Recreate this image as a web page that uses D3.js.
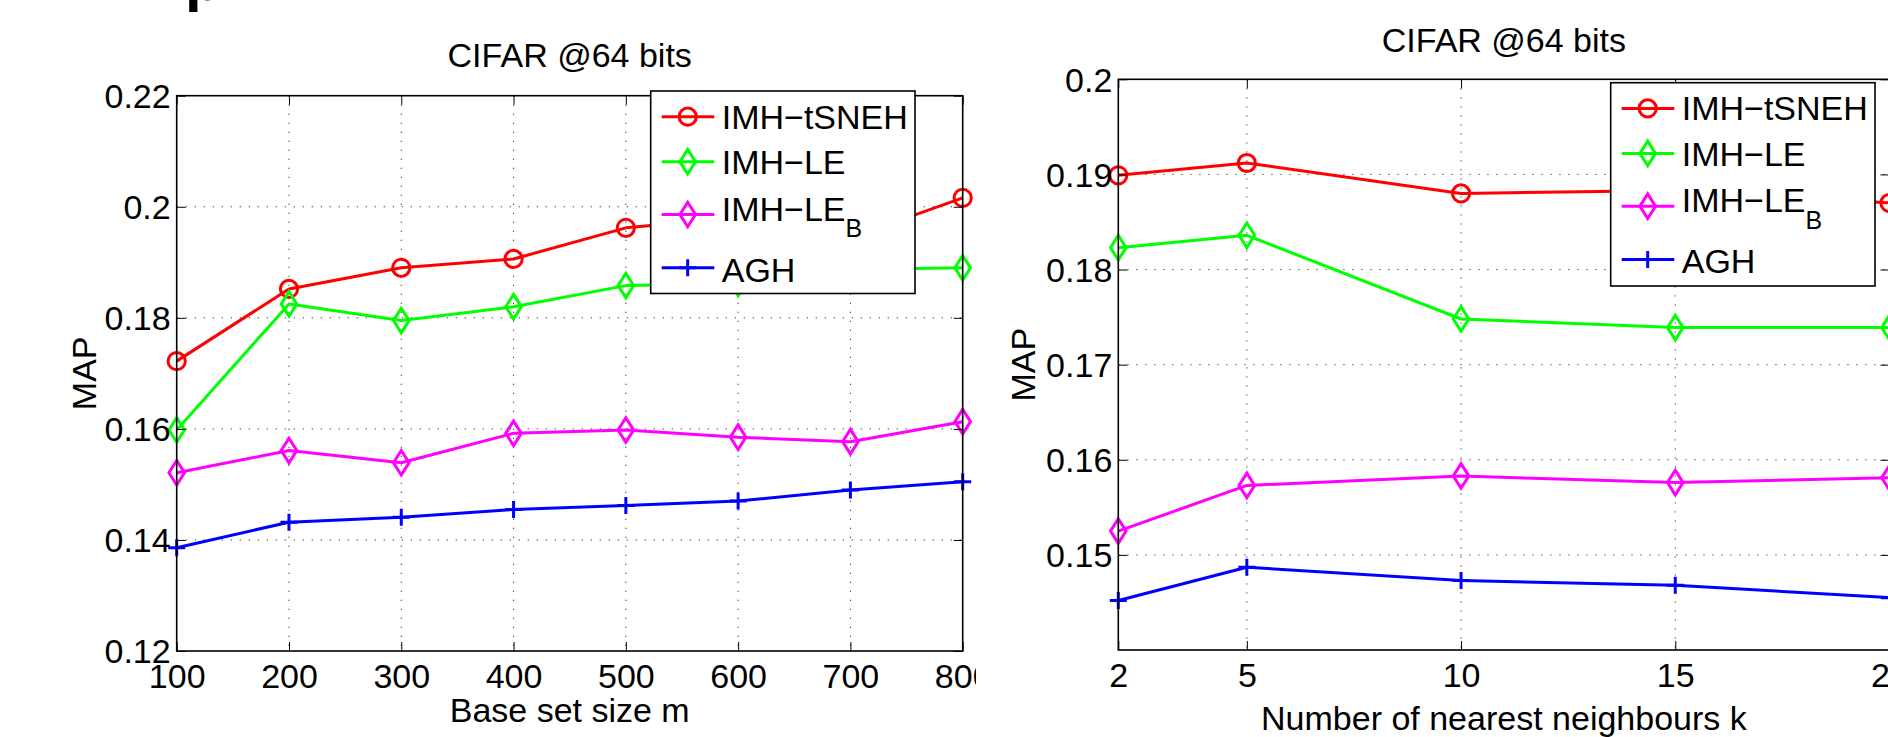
<!DOCTYPE html>
<html>
<head>
<meta charset="utf-8">
<script src="https://cdn.jsdelivr.net/npm/d3@7"></script>
<style>
  body { margin: 0; background: #fff; }
  svg { display: block; }
  text { font-family: "Liberation Sans", Arial, Helvetica, sans-serif; fill: #000; }
</style>
</head>
<body>
<svg id="fig" width="1888" height="737"></svg>
<script>
// ---- Left panel: MAP against base set size m ----
const baseSizes = [100, 200, 300, 400, 500, 600, 700, 800];
const baseTsneh = [0.1722, 0.1852, 0.1890, 0.1906, 0.1962, 0.1980, 0.1944, 0.2016];
const baseLe    = [0.1598, 0.1825, 0.1795, 0.1820, 0.1858, 0.1862, 0.1887, 0.1890];
const baseLeB   = [0.1521, 0.1561, 0.1539, 0.1592, 0.1598, 0.1585, 0.1577, 0.1613];
const baseAgh   = [0.1386, 0.1432, 0.1441, 0.1455, 0.1462, 0.1470, 0.1490, 0.1505];
const baseXTickLabels = ["100", "200", "300", "400", "500", "600", "700", "800"];
const baseYTicks = [0.12, 0.14, 0.16, 0.18, 0.2, 0.22];
const baseYTickLabels = ["0.12", "0.14", "0.16", "0.18", "0.2", "0.22"];

// ---- Right panel: MAP against number of nearest neighbours k ----
const neighbourK = [2, 5, 10, 15, 20];
const kTsneh = [0.1899, 0.1912, 0.1880, 0.1883, 0.1870];
const kLe    = [0.1823, 0.1836, 0.1748, 0.1739, 0.1739];
const kLeB   = [0.1525, 0.1573, 0.1583, 0.1576, 0.1581];
const kAgh   = [0.1452, 0.1487, 0.1473, 0.1468, 0.1455];
const kXTickLabels = ["2", "5", "10", "15", "20"];
const kYTicks = [0.15, 0.16, 0.17, 0.18, 0.19, 0.2];
const kYTickLabels = ["0.15", "0.16", "0.17", "0.18", "0.19", "0.2"];

// ---- Methods (shared legend) ----
const methodNames   = ["IMH\u2212tSNEH", "IMH\u2212LE", "IMH\u2212LE", "AGH"];
const methodSubs    = ["", "", "B", ""];
const methodColors  = ["#ff0000", "#00ff00", "#ff00ff", "#0000ff"];
const methodMarkers = ["circle", "diamond", "diamond", "plus"];

const panelTitle = "CIFAR @64 bits";
const yTitle = "MAP";

const FONT = 34;
const LW = 3;

const svg = d3.select("#fig");

function markerPath(kind) {
  if (kind === "diamond") return "M0,-12.3L7.8,0L0,12.3L-7.8,0Z";
  if (kind === "plus") return "M-8.5,0L8.5,0M0,-8.5L0,8.5";
  return null;
}

function drawMarker(sel, kind, color) {
  if (kind === "circle") {
    sel.append("circle").attr("r", 8.6)
      .attr("fill", "none").attr("stroke", color).attr("stroke-width", LW);
  } else {
    sel.append("path").attr("d", markerPath(kind))
      .attr("fill", "none").attr("stroke", color).attr("stroke-width", LW)
      .attr("stroke-linejoin", "miter");
  }
}

function drawPanel(root, cfg) {
  const x = d3.scaleLinear().domain(cfg.xDomain).range([cfg.left, cfg.right]);
  const y = d3.scaleLinear().domain(cfg.yDomain).range([cfg.bottom, cfg.top]);
  const g = root.append("g");

  // dotted grid
  const grid = g.append("g").attr("stroke", "#444").attr("stroke-width", 1)
    .attr("stroke-dasharray", "1.3,7.7");
  grid.selectAll("line.gx")
    .data(cfg.xTicks.filter(v => v > cfg.xDomain[0] && v < cfg.xDomain[1]))
    .join("line").attr("class", "gx")
    .attr("x1", d => x(d)).attr("x2", d => x(d))
    .attr("y1", cfg.top).attr("y2", cfg.bottom);
  grid.selectAll("line.gy")
    .data(cfg.yTicks.filter(v => v > cfg.yDomain[0] + 1e-9 && v < cfg.yDomain[1] - 1e-9))
    .join("line").attr("class", "gy")
    .attr("x1", cfg.left).attr("x2", cfg.right)
    .attr("y1", d => y(d)).attr("y2", d => y(d));

  // series
  const line = d3.line().x(d => x(d[0])).y(d => y(d[1]));
  cfg.series.forEach((vals, i) => {
    const pts = cfg.xValues.map((xv, j) => [xv, vals[j]]);
    g.append("path").datum(pts).attr("d", line)
      .attr("fill", "none").attr("stroke", methodColors[i])
      .attr("stroke-width", LW).attr("stroke-linejoin", "round");
    pts.forEach(p => {
      const m = g.append("g").attr("transform", `translate(${x(p[0])},${y(p[1])})`);
      drawMarker(m, methodMarkers[i], methodColors[i]);
    });
  });

  // axes (ticks point inward, as on a boxed plot)
  const styleAxis = a => {
    a.select(".domain").remove();
    a.selectAll(".tick line").attr("stroke", "#000").attr("stroke-width", 1);
    a.selectAll("text").attr("font-size", FONT)
      .attr("font-family", '"Liberation Sans", Arial, sans-serif').attr("fill", "#000");
  };
  g.append("g").attr("transform", `translate(0,${cfg.bottom})`)
    .call(d3.axisBottom(x).tickValues(cfg.xTicks)
      .tickFormat((d, i) => cfg.xTickLabels[i])
      .tickSizeInner(-9).tickSizeOuter(0).tickPadding(13))
    .call(styleAxis);
  g.append("g").attr("transform", `translate(0,${cfg.top})`)
    .call(d3.axisTop(x).tickValues(cfg.xTicks).tickFormat("")
      .tickSizeInner(-9).tickSizeOuter(0))
    .call(styleAxis);
  const yLeft = g.append("g").attr("transform", `translate(${cfg.left},0)`)
    .call(d3.axisLeft(y).tickValues(cfg.yTicks)
      .tickFormat((d, i) => cfg.yTickLabels[i])
      .tickSizeInner(-9).tickSizeOuter(0).tickPadding(6))
    .call(styleAxis);
  yLeft.selectAll("text").attr("dy", "0.345em");
  g.append("g").attr("transform", `translate(${cfg.right},0)`)
    .call(d3.axisRight(y).tickValues(cfg.yTicks).tickFormat("")
      .tickSizeInner(-9).tickSizeOuter(0))
    .call(styleAxis);

  // axes box
  g.append("rect").attr("x", cfg.left).attr("y", cfg.top)
    .attr("width", cfg.right - cfg.left).attr("height", cfg.bottom - cfg.top)
    .attr("fill", "none").attr("stroke", "#000").attr("stroke-width", 1.6);

  // titles
  g.append("text").attr("x", (cfg.left + cfg.right) / 2).attr("y", cfg.titleY)
    .attr("text-anchor", "middle").attr("font-size", FONT).text(panelTitle);
  g.append("text").attr("x", (cfg.left + cfg.right) / 2).attr("y", cfg.xTitleY)
    .attr("text-anchor", "middle").attr("font-size", FONT).text(cfg.xTitle);
  g.append("text")
    .attr("transform", `translate(${cfg.yTitleX},${(cfg.top + cfg.bottom) / 2}) rotate(-90)`)
    .attr("text-anchor", "middle").attr("font-size", FONT).text(yTitle);

  // legend
  const L = cfg.legend;
  const lg = g.append("g").attr("transform", `translate(${L.x},${L.y})`);
  lg.append("rect").attr("width", L.w).attr("height", L.h)
    .attr("fill", "#fff").attr("stroke", "#000").attr("stroke-width", 1.6);
  const rowY = [25.7, 70.7, 123.5, 176.8];
  const textY = [37.8, 83.2, 129.5, 190.7];
  methodNames.forEach((name, i) => {
    lg.append("line").attr("x1", 11).attr("x2", 63.6)
      .attr("y1", rowY[i]).attr("y2", rowY[i])
      .attr("stroke", methodColors[i]).attr("stroke-width", LW);
    const m = lg.append("g").attr("transform", `translate(37,${rowY[i]})`);
    drawMarker(m, methodMarkers[i], methodColors[i]);
    const t = lg.append("text").attr("x", 71).attr("y", textY[i]).attr("font-size", FONT);
    t.append("tspan").text(name);
    if (methodSubs[i]) {
      t.append("tspan").attr("font-size", 25).attr("dy", 16.4).text(methodSubs[i]);
    }
  });
}

// left figure is cropped on its right side
svg.append("defs").append("clipPath").attr("id", "leftClip")
  .append("rect").attr("x", 0).attr("y", 0).attr("width", 976).attr("height", 737);
const leftFig = svg.append("g").attr("clip-path", "url(#leftClip)");

// fragment of the page heading above the figures
leftFig.append("text").attr("x", 185).attr("y", -0.5)
  .attr("font-family", '"Liberation Serif", "Times New Roman", serif')
  .attr("font-weight", "bold").attr("font-size", 60).text("p");

drawPanel(leftFig, {
  left: 176.7, right: 962.7, top: 95.7, bottom: 651,
  xDomain: [100, 800], yDomain: [0.12, 0.22],
  xValues: baseSizes, xTicks: baseSizes, xTickLabels: baseXTickLabels,
  yTicks: baseYTicks, yTickLabels: baseYTickLabels,
  series: [baseTsneh, baseLe, baseLeB, baseAgh],
  titleY: 66.7, xTitle: "Base set size m", xTitleY: 722, yTitleX: 96,
  legend: { x: 650.7, y: 91, w: 264.3, h: 202.5 }
});

drawPanel(svg, {
  left: 1118.3, right: 1889.5, top: 79.3, bottom: 650,
  xDomain: [2, 20], yDomain: [0.14, 0.2],
  xValues: neighbourK, xTicks: neighbourK, xTickLabels: kXTickLabels,
  yTicks: kYTicks, yTickLabels: kYTickLabels,
  series: [kTsneh, kLe, kLeB, kAgh],
  titleY: 51.7, xTitle: "Number of nearest neighbours k", xTitleY: 730, yTitleX: 1035,
  legend: { x: 1610.7, y: 82.7, w: 264.3, h: 203.3 }
});
</script>
</body>
</html>
